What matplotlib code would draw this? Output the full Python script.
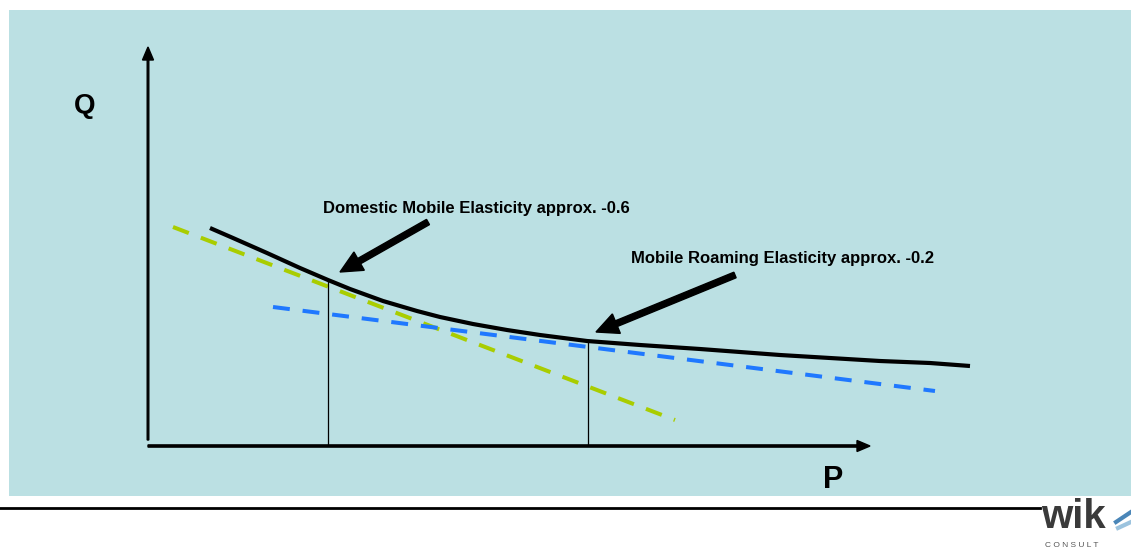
import numpy as np
import matplotlib.pyplot as plt
from matplotlib.patches import Rectangle, FancyArrow
from matplotlib.lines import Line2D

plt.rcParams['font.family'] = ['Liberation Sans', 'DejaVu Sans']

# demand curve, price P against quantity Q (diagram units)
curve_p = [62, 85, 119, 152, 180, 202, 235, 269, 292, 325, 359, 392, 439,
           492, 552, 632, 682, 732, 782, 822]
curve_q = [218, 208, 193, 178, 166, 157, 145, 135, 129, 122, 116, 111, 105,
           101, 97, 91, 88, 85, 83, 80]

# tangent at the domestic point (elasticity -0.6)
dom_p = [25, 527]
dom_q = [219, 26]
# tangent at the roaming point (elasticity -0.2)
roam_p = [125, 787]
roam_q = [139, 55]

# drop lines from the tangent points to the P axis
drop_p = [180, 440]
drop_q = [166, 105]

labels = ['Domestic Mobile Elasticity approx. -0.6',
          'Mobile Roaming Elasticity approx. -0.2']
label_pos = [(175, 238), (483, 188)]
arrow_tail = [(280, 224), (587, 171)]
arrow_tip = [(192, 174), (448, 114)]

W, H = 1131, 549
fig = plt.figure(figsize=(W / 100, H / 100), dpi=100)
ax = fig.add_axes([0, 0, 1, 1])
# one unit = one pixel, origin at the corner of the P/Q axes
ox, oy = 148, 446
ax.set_xlim(-ox, W - ox)
ax.set_ylim(oy - H, oy)
ax.axis('off')

# light blue panel
ax.add_patch(Rectangle((9 - ox, oy - 496), W - 9, 486, facecolor='#bbe0e3',
                       edgecolor='none', zorder=0))

# axes with arrow heads
ax.add_patch(FancyArrow(0, 6, 0, 393, width=1.6, head_width=11, head_length=13,
                        length_includes_head=True, color='black', zorder=3))
ax.add_patch(FancyArrow(0, 0, 722, 0, width=2.2, head_width=11, head_length=13,
                        length_includes_head=True, color='black', zorder=3))
ax.text(-63, 340, 'Q', fontsize=20, fontweight='bold', ha='center', va='center')
ax.text(685, -34, 'P', fontsize=22, fontweight='bold', ha='center', va='center')

dash = (0, (4.2, 3.2))
ax.plot(dom_p, dom_q, color='#a9cd00', lw=2.9, linestyle=dash, zorder=2)
ax.plot(roam_p, roam_q, color='#1f78ff', lw=2.9, linestyle=dash, zorder=2)
ax.plot(curve_p, curve_q, color='black', lw=3, solid_joinstyle='round',
        solid_capstyle='butt', zorder=4)

for p, q in zip(drop_p, drop_q):
    ax.plot([p, p], [q, 2], color='black', lw=0.9, zorder=3)

for text, (tx, ty), (ax0, ay0), (ax1, ay1) in zip(labels, label_pos, arrow_tail, arrow_tip):
    ax.text(tx, ty, text, fontsize=12, fontweight='bold', ha='left', va='center')
    ax.add_patch(FancyArrow(ax0, ay0, ax1 - ax0, ay1 - ay0, width=6, head_width=21,
                            head_length=22, length_includes_head=True,
                            color='black', zorder=5))

# footer rule and logo
fig.add_artist(Line2D([0, 1040 / W], [1 - 508 / H] * 2, color='black', lw=2))
fig.text(1041 / W, 1 - 528 / H, 'wik', fontsize=29, fontweight='bold',
         color='#3a3a3a', ha='left', va='baseline')
fig.text(1045 / W, 1 - 547 / H, 'C O N S U L T', fontsize=6, color='#555555',
         ha='left', va='baseline')
fig.add_artist(Line2D([1116 / W, 1131 / W], [1 - 522 / H, 1 - 512 / H],
                      color='#4a86b8', lw=3))
fig.add_artist(Line2D([1118 / W, 1131 / W], [1 - 528 / H, 1 - 522 / H],
                      color='#9cc3de', lw=3))

fig.savefig('out.png', dpi=100)
